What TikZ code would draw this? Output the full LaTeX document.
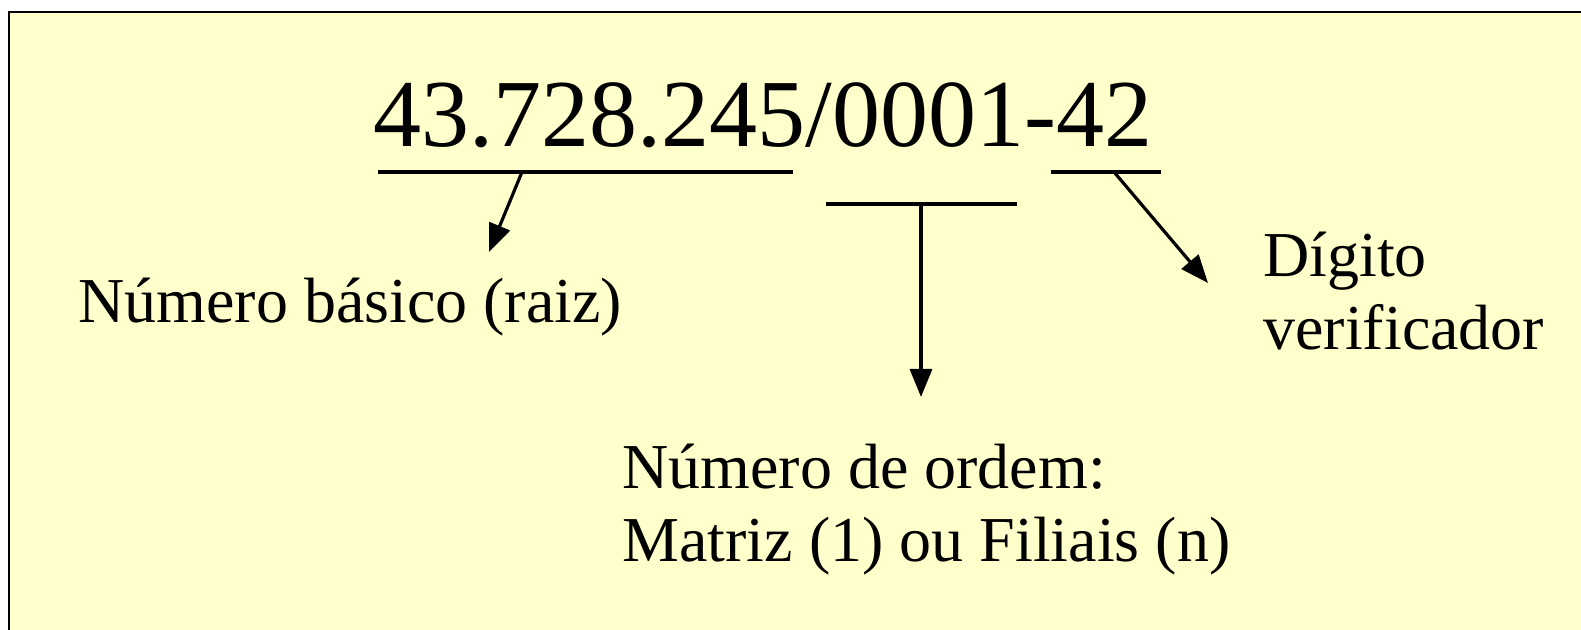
\documentclass[tikz,border=0pt]{standalone}
\usepackage{fontspec}
\setmainfont{Liberation Serif}
\usetikzlibrary{arrows.meta}
\definecolor{paper}{HTML}{FFFFCC}
\tikzset{
  bar/.style={line width=1.9pt},
  pointer/.style={line width=1.6pt,-{Triangle[length=14pt,width=11pt]}},
  bigtxt/.style={anchor=base west,inner sep=0pt,font=\fontsize{48}{55}\selectfont},
  lbl/.style={anchor=base west,inner sep=0pt,font=\fontsize{32}{36}\selectfont},
}
\begin{document}
\begin{tikzpicture}[x=0.5pt,y=-0.5pt]
\useasboundingbox (0,0) rectangle (1581,630);
\clip (0,0) rectangle (1581,630);
\draw[fill=paper,line width=0.8pt] (9,12) rectangle (1600,650);
% main number
\node[bigtxt] (num) at (373,147) {43.728.245/0001-42};
% underlines
\coordinate (u1a) at (378,172); \coordinate (u1b) at (793,172);
\coordinate (u2a) at (826,204); \coordinate (u2b) at (1017,204);
\coordinate (u3a) at (1051,172); \coordinate (u3b) at (1161,172);
\draw[bar] (u1a) -- (u1b);
\draw[bar] (u2a) -- (u2b);
\draw[bar] (u3a) -- (u3b);
% arrow anchors
\coordinate (s1) at (522,172); \coordinate (t1) at (489,252);
\coordinate (s2) at (921,204); \coordinate (t2) at (921,397);
\coordinate (s3) at (1114,172); \coordinate (t3) at (1208,283);
\draw[pointer] (s1) -- (t1);
\draw[pointer] (s2) -- (t2);
\draw[pointer] (s3) -- (t3);
% labels
\node[lbl] (raiz) at (78,323) {Número básico (raiz)};
\node[lbl] (dig1) at (1263,277) {Dígito};
\node[lbl] (dig2) at (1263,350) {verificador};
\node[lbl] (ord1) at (622,489) {Número de ordem:};
\node[lbl] (ord2) at (622,562) {Matriz (1) ou Filiais (n)};
\end{tikzpicture}
\end{document}
